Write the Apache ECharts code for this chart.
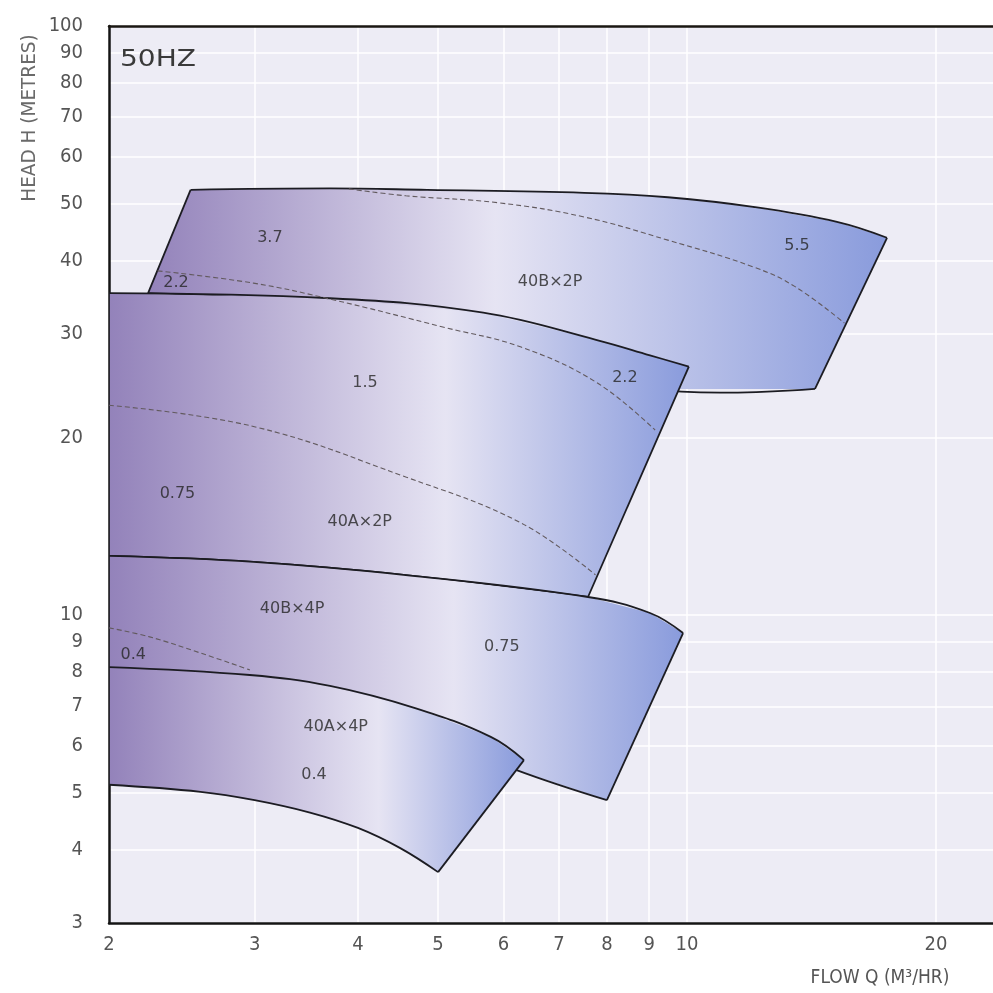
<!DOCTYPE html>
<html>
<head>
<meta charset="utf-8">
<script src="https://cdn.jsdelivr.net/npm/echarts@6/dist/echarts.min.js"></script>
<style>
html,body{margin:0;padding:0;background:#ffffff;}
#chart{width:993px;height:993px;}
</style>
</head>
<body>
<div id="chart"></div>
<script>
// ---- axis ticks ----
const xTicks = [2, 3, 4, 5, 6, 7, 8, 9, 10, 20];
const yTicks = [3, 4, 5, 6, 7, 8, 9, 10, 20, 30, 40, 50, 60, 70, 80, 90, 100];

// ---- pump operating zones: [flow m3/hr, head m] ----
// 40B x 2P
const b2pTop    = [[2.51, 52.7], [3.70, 53.0], [4.85, 52.7], [7.51, 52.1], [9.48, 51.2], [12.02, 49.3], [15.18, 46.5], [17.45, 43.7]];
const b2pBottom = [[2.23, 35.2], [3.40, 34.0], [5.17, 31.5], [7.00, 27.5], [9.00, 24.2], [14.28, 24.2]];
// 40A x 2P
const a2pTop    = [[2.00, 35.2], [3.70, 34.5], [5.67, 32.6], [7.78, 29.3], [9.02, 27.6], [10.05, 26.4]];
const a2pBottom = [[2.00, 12.6], [2.99, 12.31], [4.57, 11.69], [7.59, 10.73]];
// 40B x 4P
const b4pTop    = [[2.00, 12.6], [2.99, 12.31], [4.57, 11.69], [7.59, 10.73], [9.02, 10.08], [9.89, 9.32]];
const b4pBottom = [[2.00, 7.9], [3.70, 7.3], [5.00, 6.2], [6.21, 5.46], [8.00, 4.85]];
// 40A x 4P
const a4pTop    = [[2.00, 8.16], [2.96, 7.91], [3.70, 7.58], [4.69, 6.95], [5.79, 6.21], [6.35, 5.67]];
const a4pBottom = [[2.00, 5.15], [2.58, 5.01], [3.00, 4.85], [3.50, 4.62], [4.00, 4.35], [4.50, 4.02], [5.00, 3.66]];

// ---- motor power boundaries (dashed) ----
const b2pLine37  = [[3.90, 52.9], [4.57, 51.5], [5.92, 50.1], [7.51, 47.4], [9.48, 43.3], [12.02, 39.0], [13.51, 36.1], [15.50, 31.3]];
const x2pLine22  = [[2.29, 38.4], [2.99, 36.6], [3.73, 34.3], [5.08, 30.8], [6.30, 28.5], [7.78, 24.8], [9.15, 20.6]];
const a2pLine075 = [[2.00, 22.7], [2.99, 20.9], [4.57, 17.15], [6.30, 14.33], [7.75, 11.7]];
const b4pLine04  = [[2.00, 9.51], [2.24, 9.18], [2.58, 8.62], [2.96, 8.07]];

// ---- zone / motor labels: [text, flow, head] ----
const zoneLabels = [
  ['3.7', 3.13, 43.7], ['5.5', 13.58, 42.3], ['40B×2P', 6.83, 36.8], ['2.2', 2.41, 36.6],
  ['1.5', 4.08, 24.8], ['2.2', 8.41, 25.3], ['0.75', 2.42, 16.05], ['40A×2P', 4.02, 14.4],
  ['40B×4P', 3.33, 10.24], ['0.75', 5.97, 8.83], ['0.4', 2.14, 8.55],
  ['40A×4P', 3.76, 6.45], ['0.4', 3.54, 5.35]
];

const PURPLE = '#9382ba', LIGHT = '#e6e4f3', BLUE = '#899bdc';
const EDGE = '#1c1c22';

function zoneSeries(top, bottom, mid) {
  return {
    type: 'custom',
    coordinateSystem: 'cartesian2d',
    clip: true,
    silent: true,
    data: top.concat(bottom),
    encode: { x: 0, y: 1 },
    renderItem: function (params, api) {
      if (params.dataIndex !== 0) return null;
      const t = top.map(p => api.coord(p));
      const b = bottom.map(p => api.coord(p));
      const poly = t.concat(b.slice().reverse());
      const grad = new echarts.graphic.LinearGradient(0, 0, 1, 0, [
        { offset: 0, color: PURPLE },
        { offset: mid, color: LIGHT },
        { offset: 1, color: BLUE }
      ]);
      const lineStyle = { stroke: EDGE, lineWidth: 1.8, fill: null };
      return {
        type: 'group',
        children: [
          { type: 'polygon', shape: { points: poly }, style: { fill: grad, stroke: null } },
          { type: 'polyline', shape: { points: t, smooth: 0.4 }, style: lineStyle },
          { type: 'polyline', shape: { points: b, smooth: 0.4 }, style: lineStyle },
          { type: 'line', shape: { x1: t[0][0], y1: t[0][1], x2: b[0][0], y2: b[0][1] }, style: lineStyle },
          { type: 'line', shape: { x1: t[t.length - 1][0], y1: t[t.length - 1][1], x2: b[b.length - 1][0], y2: b[b.length - 1][1] }, style: lineStyle }
        ]
      };
    }
  };
}

function dashSeries(pts) {
  return {
    type: 'line',
    data: pts,
    smooth: 0.4,
    symbol: 'none',
    silent: true,
    lineStyle: { color: '#625a5e', width: 1.1, type: [5, 3] },
    z: 5
  };
}

const FONT_NARROW = '"DejaVu Sans Condensed", "Liberation Sans Narrow", sans-serif';

const chart = echarts.init(document.getElementById('chart'), null, { renderer: 'canvas' });
chart.setOption({
  animation: false,
  backgroundColor: '#ffffff',
  grid: {
    left: 109, right: 0, top: 26, bottom: 70,
    show: true, backgroundColor: '#edecf5', borderWidth: 0
  },
  xAxis: [{
    type: 'log', logBase: 10, min: 2, max: 23.44,
    axisLine: { show: true, lineStyle: { color: '#141414', width: 2.5 } },
    axisTick: { show: false, customValues: xTicks },
    axisLabel: { customValues: xTicks, color: '#555', fontSize: 20, fontFamily: FONT_NARROW, margin: 12 },
    splitLine: { show: true, lineStyle: { color: '#ffffff', width: 1.5 } }
  }, {
    type: 'log', logBase: 10, min: 2, max: 23.44, position: 'top',
    axisLine: { show: true, lineStyle: { color: '#1a1712', width: 2.5 } },
    axisTick: { show: false }, axisLabel: { show: false }, splitLine: { show: false }
  }],
  yAxis: {
    type: 'log', logBase: 10, min: 3, max: 100,
    axisLine: { show: true, lineStyle: { color: '#141414', width: 2.5 } },
    axisTick: { show: false, customValues: yTicks },
    axisLabel: { customValues: yTicks, color: '#555', fontSize: 20, fontFamily: FONT_NARROW, margin: 26 },
    splitLine: { show: true, lineStyle: { color: '#ffffff', width: 1.5 } }
  },
  graphic: [
    { type: 'text', x: 120, y: 60, scaleX: 1.22, style: { text: '50HZ', fill: '#3a3a3a', font: '23px "DejaVu Sans", sans-serif', verticalAlign: 'middle' }, z: 10 },
    { type: 'text', x: 30, y: 118, rotation: Math.PI / 2, scaleX: 1.08, style: { text: 'HEAD H (METRES)', fill: '#6a6a6a', font: '19px ' + FONT_NARROW, align: 'center', verticalAlign: 'middle' } },
    { type: 'text', x: 880, y: 978, style: { text: 'FLOW Q (M³/HR)', fill: '#555', font: '19px ' + FONT_NARROW, align: 'center', verticalAlign: 'middle' } }
  ],
  series: [
    zoneSeries(b2pTop, b2pBottom, 0.47),
    zoneSeries(a2pTop, a2pBottom, 0.58),
    zoneSeries(b4pTop, b4pBottom, 0.6),
    zoneSeries(a4pTop, a4pBottom, 0.65),
    dashSeries(b2pLine37),
    dashSeries(x2pLine22),
    dashSeries(a2pLine075),
    dashSeries(b4pLine04),
    {
      type: 'scatter',
      silent: true,
      symbolSize: 0,
      z: 6,
      data: zoneLabels.map(l => ({ name: l[0], value: [l[1], l[2]] })),
      label: {
        show: true, position: 'inside', formatter: '{b}',
        color: '#262626', fontSize: 16, fontFamily: '"DejaVu Sans", sans-serif'
      }
    }
  ]
});
</script>
</body>
</html>
